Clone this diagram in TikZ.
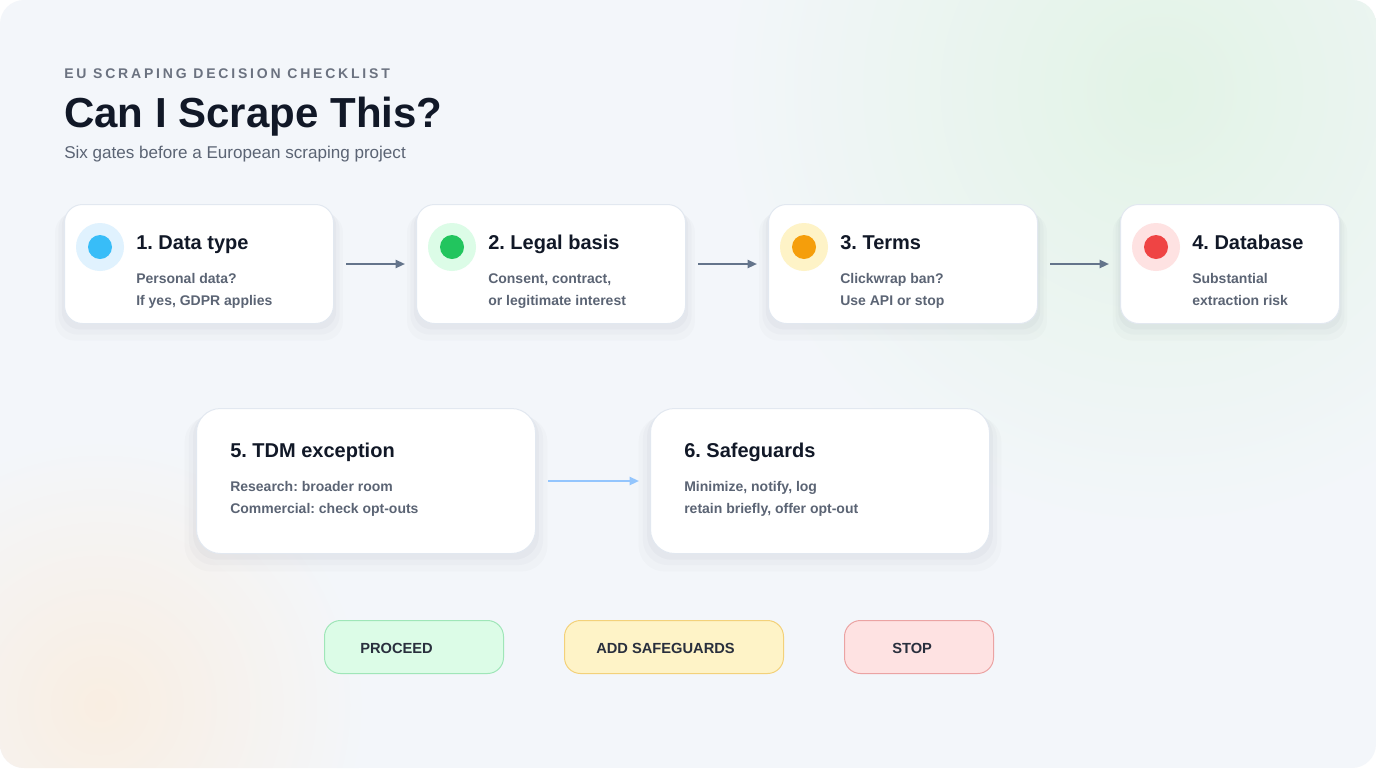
\documentclass[tikz,border=0pt]{standalone}
\usepackage{fontspec}
\setmainfont{Liberation Sans}
\frenchspacing
\usetikzlibrary{arrows.meta,shadows}

\definecolor{panelbg}{HTML}{F3F6FA}
\definecolor{glowgreen}{HTML}{E2F3E6}
\definecolor{glowpeach}{HTML}{F9EEE2}
\definecolor{ink}{HTML}{111827}
\definecolor{muted}{HTML}{5B6474}
\definecolor{kicker}{HTML}{6B7280}
\definecolor{gateline}{HTML}{E2E8F0}
\definecolor{arrowgray}{HTML}{64748B}
\definecolor{arrowblue}{HTML}{93C5FD}
\definecolor{dotblue}{HTML}{38BDF8}
\definecolor{ringblue}{HTML}{E0F2FE}
\definecolor{dotgreen}{HTML}{22C55E}
\definecolor{ringgreen}{HTML}{DCFCE7}
\definecolor{dotorange}{HTML}{F59E0B}
\definecolor{ringorange}{HTML}{FEF3C7}
\definecolor{dotred}{HTML}{EF4444}
\definecolor{ringred}{HTML}{FEE2E2}
\definecolor{okfill}{HTML}{DCFCE7}
\definecolor{okline}{HTML}{9FE6B8}
\definecolor{warnfill}{HTML}{FEF3C7}
\definecolor{warnline}{HTML}{F3D17A}
\definecolor{stopfill}{HTML}{FEE2E2}
\definecolor{stopline}{HTML}{EBA3A3}
\definecolor{shade}{HTML}{334155}

\tikzset{
  gate/.style={draw=gateline, fill=white, line width=0.75pt,
    rounded corners=13.5pt, anchor=north west, inner sep=0pt,
    minimum height=89.25pt,
    general shadow={fill=shade, opacity=0.018, shadow yshift=-9pt, shadow scale=1.07},
    general shadow={fill=shade, opacity=0.025, shadow yshift=-6pt, shadow scale=1.045},
    general shadow={fill=shade, opacity=0.03, shadow yshift=-3.5pt, shadow scale=1.02}},
  widegate/.style={gate, rounded corners=18pt,
    minimum width=254.25pt, minimum height=108.75pt},
  ring/.style={circle, inner sep=0pt, minimum size=36pt, fill=#1},
  dot/.style={circle, inner sep=0pt, minimum size=18pt, fill=#1},
  gatehead/.style={anchor=base west, inner sep=0pt, text=ink,
    font=\fontsize{15pt}{18pt}\selectfont\bfseries},
  gatebody/.style={anchor=north west, inner sep=0pt, text=muted,
    align=left, font=\fontsize{10.5pt}{16.5pt}\selectfont\bfseries},
  flow/.style={-{Triangle[length=7pt,width=6pt]}, line width=1.5pt,
    draw=arrowgray, shorten <=9pt, shorten >=8.25pt},
  pill/.style={draw=#1line, fill=#1fill, line width=0.75pt,
    rounded corners=12pt, anchor=north west, inner sep=0pt,
    minimum height=39.75pt},
  pilltext/.style={anchor=west, inner sep=0pt, text=ink!90,
    font=\fontsize{11pt}{13pt}\selectfont\bfseries},
}

\begin{document}
\begin{tikzpicture}[x=0.75pt,y=-0.75pt]
  \useasboundingbox (0,0) rectangle (1376,768);
  \fill[white] (0,0) rectangle (1376,768);
  \begin{scope}
    \clip[rounded corners=18pt] (0,0) rectangle (1376,768);
    \fill[panelbg] (0,0) rectangle (1376,768);
    \shade[inner color=glowgreen, outer color=panelbg]
      (1160,90) circle [radius=330pt];
    \shade[inner color=glowpeach, outer color=panelbg]
      (100,705) circle [radius=200pt];
  \end{scope}

  % heading
  \node[anchor=base west, inner sep=0pt, text=kicker,
    font=\fontsize{10.5pt}{12pt}\selectfont\bfseries\addfontfeature{LetterSpace=20}]
    (kick) at (64,78) {EU SCRAPING DECISION CHECKLIST};
  \node[anchor=base west, inner sep=0pt, text=ink,
    font=\fontsize{31.5pt}{36pt}\selectfont\bfseries]
    (title) at (64,127) {Can I Scrape This?};
  \node[anchor=base west, inner sep=0pt, text=muted,
    font=\fontsize{12.8pt}{15pt}\selectfont]
    (sub) at (64,158) {Six gates before a European scraping project};

  % first row
  \node[gate, minimum width=201.75pt] (gate1) at (64,204) {};
  \node[gate, minimum width=201.75pt] (gate2) at (416,204) {};
  \node[gate, minimum width=201.75pt] (gate3) at (768,204) {};
  \node[gate, minimum width=164.25pt] (gate4) at (1120,204) {};

  \node[ring=ringblue] (ring1) at ([shift={(36,43)}]gate1.north west) {};
  \node[dot=dotblue] at (ring1) {};
  \node[gatehead] (head1) at ([shift={(72,45)}]gate1.north west) {1. Data type};
  \node[gatebody] at ([shift={(72,69)}]gate1.north west)
    {Personal data?\\If yes, GDPR applies};

  \node[ring=ringgreen] (ring2) at ([shift={(36,43)}]gate2.north west) {};
  \node[dot=dotgreen] at (ring2) {};
  \node[gatehead] (head2) at ([shift={(72,45)}]gate2.north west) {2. Legal basis};
  \node[gatebody] at ([shift={(72,69)}]gate2.north west)
    {Consent, contract,\\or legitimate interest};

  \node[ring=ringorange] (ring3) at ([shift={(36,43)}]gate3.north west) {};
  \node[dot=dotorange] at (ring3) {};
  \node[gatehead] (head3) at ([shift={(72,45)}]gate3.north west) {3. Terms};
  \node[gatebody] at ([shift={(72,69)}]gate3.north west)
    {Clickwrap ban?\\Use API or stop};

  \node[ring=ringred] (ring4) at ([shift={(36,43)}]gate4.north west) {};
  \node[dot=dotred] at (ring4) {};
  \node[gatehead] (head4) at ([shift={(72,45)}]gate4.north west) {4. Database};
  \node[gatebody] at ([shift={(72,69)}]gate4.north west)
    {Substantial\\extraction risk};

  \draw[flow] (gate1.east) -- (gate2.west);
  \draw[flow] (gate2.east) -- (gate3.west);
  \draw[flow] (gate3.east) -- (gate4.west);

  % second row
  \node[widegate] (gate5) at (196,408) {};
  \node[widegate] (gate6) at (650,408) {};
  \node[gatehead] (head5) at ([shift={(34,49)}]gate5.north west) {5. TDM exception};
  \node[gatebody] at ([shift={(34,73)}]gate5.north west)
    {Research: broader room\\Commercial: check opt-outs};
  \node[gatehead] (head6) at ([shift={(34,49)}]gate6.north west) {6. Safeguards};
  \node[gatebody] at ([shift={(34,73)}]gate6.north west)
    {Minimize, notify, log\\retain briefly, offer opt-out};

  \draw[flow, draw=arrowblue] (gate5.east) -- (gate6.west);

  % legend
  \node[pill=ok, minimum width=134.25pt] (proceed) at (324,620) {};
  \node[pill=warn, minimum width=164.25pt] (safeguards) at (564,620) {};
  \node[pill=stop, minimum width=111.75pt] (halt) at (844,620) {};
  \node[pilltext] at ([shift={(36,1)}]proceed.west) {PROCEED};
  \node[pilltext] at ([shift={(32,1)}]safeguards.west) {ADD SAFEGUARDS};
  \node[pilltext] at ([shift={(48,1)}]halt.west) {STOP};
\end{tikzpicture}
\end{document}
